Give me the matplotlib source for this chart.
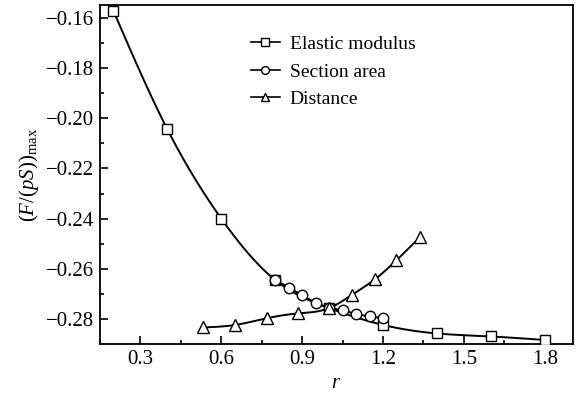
import numpy as np
import matplotlib
matplotlib.use("Agg")
import matplotlib.pyplot as plt
from matplotlib.lines import Line2D

# Data
r_elastic = [0.2, 0.4, 0.6, 0.8, 1.0, 1.2, 1.4, 1.6, 1.8]
f_elastic = [-0.1572, -0.2044, -0.2400, -0.2645, -0.2757, -0.2824, -0.2858, -0.2870, -0.2884]

r_area = [0.80, 0.85, 0.90, 0.95, 1.00, 1.05, 1.10, 1.15, 1.20]
f_area = [-0.2644, -0.2675, -0.2706, -0.2735, -0.2755, -0.2766, -0.2780, -0.2790, -0.2797]

r_dist = [0.534, 0.652, 0.770, 0.885, 1.000, 1.085, 1.170, 1.250, 1.337]
f_dist = [-0.2834, -0.2824, -0.2797, -0.2778, -0.2757, -0.2704, -0.2642, -0.2566, -0.2474]

xticks = [0.3, 0.6, 0.9, 1.2, 1.5, 1.8]
yticks = [-0.28, -0.26, -0.24, -0.22, -0.20, -0.18, -0.16]


def natural_spline(x, y, n=200):
    x = np.asarray(x, float)
    y = np.asarray(y, float)
    k = len(x)
    h = np.diff(x)
    A = np.zeros((k, k))
    b = np.zeros(k)
    A[0, 0] = 1
    A[-1, -1] = 1
    for i in range(1, k - 1):
        A[i, i - 1] = h[i - 1]
        A[i, i] = 2 * (h[i - 1] + h[i])
        A[i, i + 1] = h[i]
        b[i] = 6 * ((y[i + 1] - y[i]) / h[i] - (y[i] - y[i - 1]) / h[i - 1])
    M = np.linalg.solve(A, b)
    xs = np.linspace(x[0], x[-1], n)
    idx = np.clip(np.searchsorted(x, xs) - 1, 0, k - 2)
    x0, x1 = x[idx], x[idx + 1]
    hh = x1 - x0
    t0 = x1 - xs
    t1 = xs - x0
    ys = (M[idx] * t0**3 / (6 * hh) + M[idx + 1] * t1**3 / (6 * hh)
          + (y[idx] / hh - M[idx] * hh / 6) * t0
          + (y[idx + 1] / hh - M[idx + 1] * hh / 6) * t1)
    return xs, ys


plt.rcParams['font.family'] = ['Liberation Serif', 'DejaVu Serif']
plt.rcParams['mathtext.fontset'] = 'custom'
plt.rcParams['mathtext.rm'] = 'Liberation Serif'
plt.rcParams['mathtext.it'] = 'Liberation Serif:italic'
plt.rcParams['mathtext.bf'] = 'Liberation Serif:bold'
plt.rcParams['axes.unicode_minus'] = True

fig = plt.figure(figsize=(5.81, 3.93), dpi=100)
ax = fig.add_axes([100 / 581, 1 - 344 / 393, 473 / 581, 339 / 393])

series = [
    (r_elastic, f_elastic, 's', 'Elastic modulus', 7),
    (r_area, f_area, 'o', 'Section area', 7.5),
    (r_dist, f_dist, '^', 'Distance', 8.5),
]
for x, y, m, lab, ms in series:
    xs, ys = natural_spline(x, y)
    ax.plot(xs, ys, color='black', lw=1.4, zorder=2)
    ax.plot(x, y, linestyle='none', marker=m, ms=ms, mfc='white', mec='black',
            mew=1.0, zorder=3)

handles = [Line2D([], [], color='black', lw=1.2, marker=m, ms=ms * 0.75,
                  mfc='white', mec='black', mew=1.0)
           for _, _, m, _, ms in series]
labels = [s[3] for s in series]
ax.legend(handles, labels, loc='upper left', bbox_to_anchor=(0.29, 0.95),
          frameon=False, fontsize=14, handlelength=1.5, handletextpad=0.5,
          labelspacing=0.5, borderpad=0.2)

ax.set_xlim(0.152, 1.905)
ax.set_ylim(-0.29, -0.1548)
ax.set_xticks(xticks)
ax.set_xticklabels([f"{v:.1f}" for v in xticks])
ax.set_yticks(yticks)
ax.set_yticklabels([f"\u2212{abs(v):.2f}" for v in yticks])
ax.set_xticks(np.arange(0.15, 1.91, 0.15), minor=True)
ax.set_yticks(np.arange(-0.29, -0.15, 0.01), minor=True)
ax.tick_params(which='both', direction='in', top=False, right=False,
               labelsize=15, width=1.2)
ax.tick_params(which='major', length=6, pad=4)
ax.tick_params(which='minor', length=3)
for s in ax.spines.values():
    s.set_linewidth(1.3)

ax.set_xlabel(r'$r$', fontsize=15, labelpad=4)
ax.set_ylabel(r'$(F/(pS))_{\rm max}$', fontsize=15, labelpad=4)

fig.savefig('out.png', dpi=100)
